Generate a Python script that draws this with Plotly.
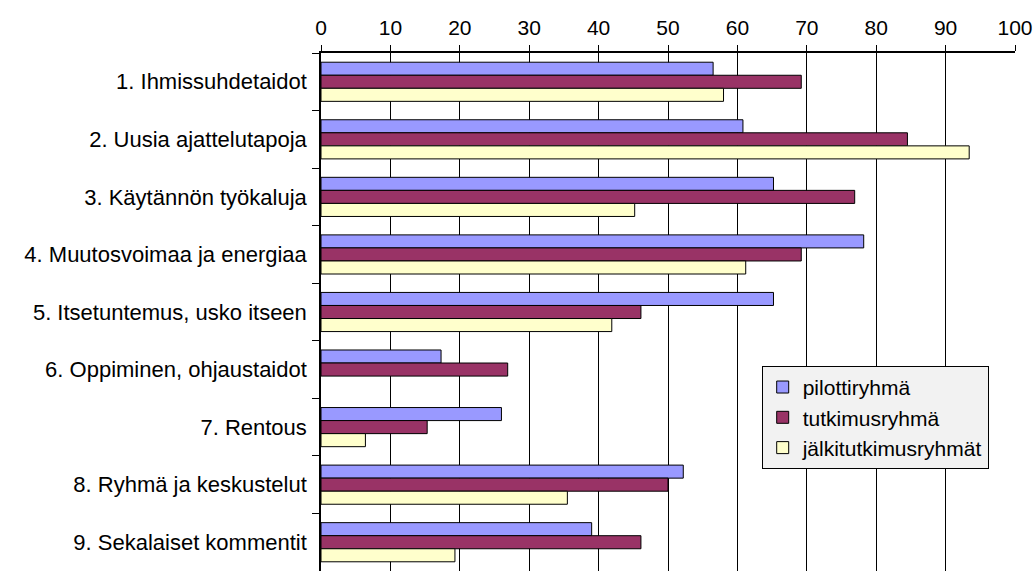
import plotly.graph_objects as go

categories = [
    "1. Ihmissuhdetaidot",
    "2. Uusia ajattelutapoja",
    "3. Käytännön työkaluja",
    "4. Muutosvoimaa ja energiaa",
    "5. Itsetuntemus, usko itseen",
    "6. Oppiminen, ohjaustaidot",
    "7. Rentous",
    "8. Ryhmä ja keskustelut",
    "9. Sekalaiset kommentit",
]

pilottiryhma = [56.5, 60.8, 65.2, 78.2, 65.2, 17.3, 26.0, 52.2, 39.0]
tutkimusryhma = [69.2, 84.5, 76.9, 69.2, 46.1, 26.9, 15.3, 50.0, 46.1]
jalkitutkimusryhmat = [58.0, 93.4, 45.2, 61.2, 41.9, None, 6.4, 35.5, 19.3]

x_ticks = list(range(0, 101, 10))

FONT = "Liberation Sans, Arial, sans-serif"

series = [
    ("pilottiryhmä", pilottiryhma, "#9999FF"),
    ("tutkimusryhmä", tutkimusryhma, "#993366"),
    ("jälkitutkimusryhmät", jalkitutkimusryhmat, "#FFFFCC"),
]

fig = go.Figure()
for name, values, color in series:
    fig.add_trace(go.Bar(
        name=name,
        y=categories,
        x=values,
        orientation="h",
        marker=dict(color=color, line=dict(color="#000000", width=1)),
    ))

fig.update_layout(
    width=1036,
    height=571,
    margin=dict(l=321, r=21, t=53, b=0),
    paper_bgcolor="white",
    plot_bgcolor="white",
    barmode="group",
    bargap=0.32,
    bargroupgap=0,
    font=dict(family=FONT, size=22, color="#000000"),
    legend=dict(
        x=0.635, y=0.396, xanchor="left", yanchor="top",
        bgcolor="#F2F2F2", bordercolor="#000000", borderwidth=1,
        font=dict(family=FONT, size=21, color="#000000"),
        traceorder="normal",
        itemwidth=30,
        tracegroupgap=0,
    ),
)

fig.update_xaxes(
    side="top",
    range=[0, 100],
    tickvals=x_ticks,
    ticktext=[str(v) for v in x_ticks],
    tickfont=dict(size=21),
    showgrid=True, gridcolor="#000000", gridwidth=1,
    showline=True, linecolor="#000000", linewidth=1.5,
    ticks="outside", ticklen=6, tickcolor="#000000",
    ticklabelstandoff=2,
    zeroline=False,
    fixedrange=True,
)

fig.update_yaxes(
    type="category",
    categoryorder="array", categoryarray=categories,
    autorange="reversed",
    tickson="boundaries",
    ticks="outside", ticklen=7, tickcolor="#000000",
    ticklabelstandoff=8,
    showline=True, linecolor="#000000", linewidth=1.5,
    showgrid=False,
    fixedrange=True,
)

fig.write_html("out.html")
